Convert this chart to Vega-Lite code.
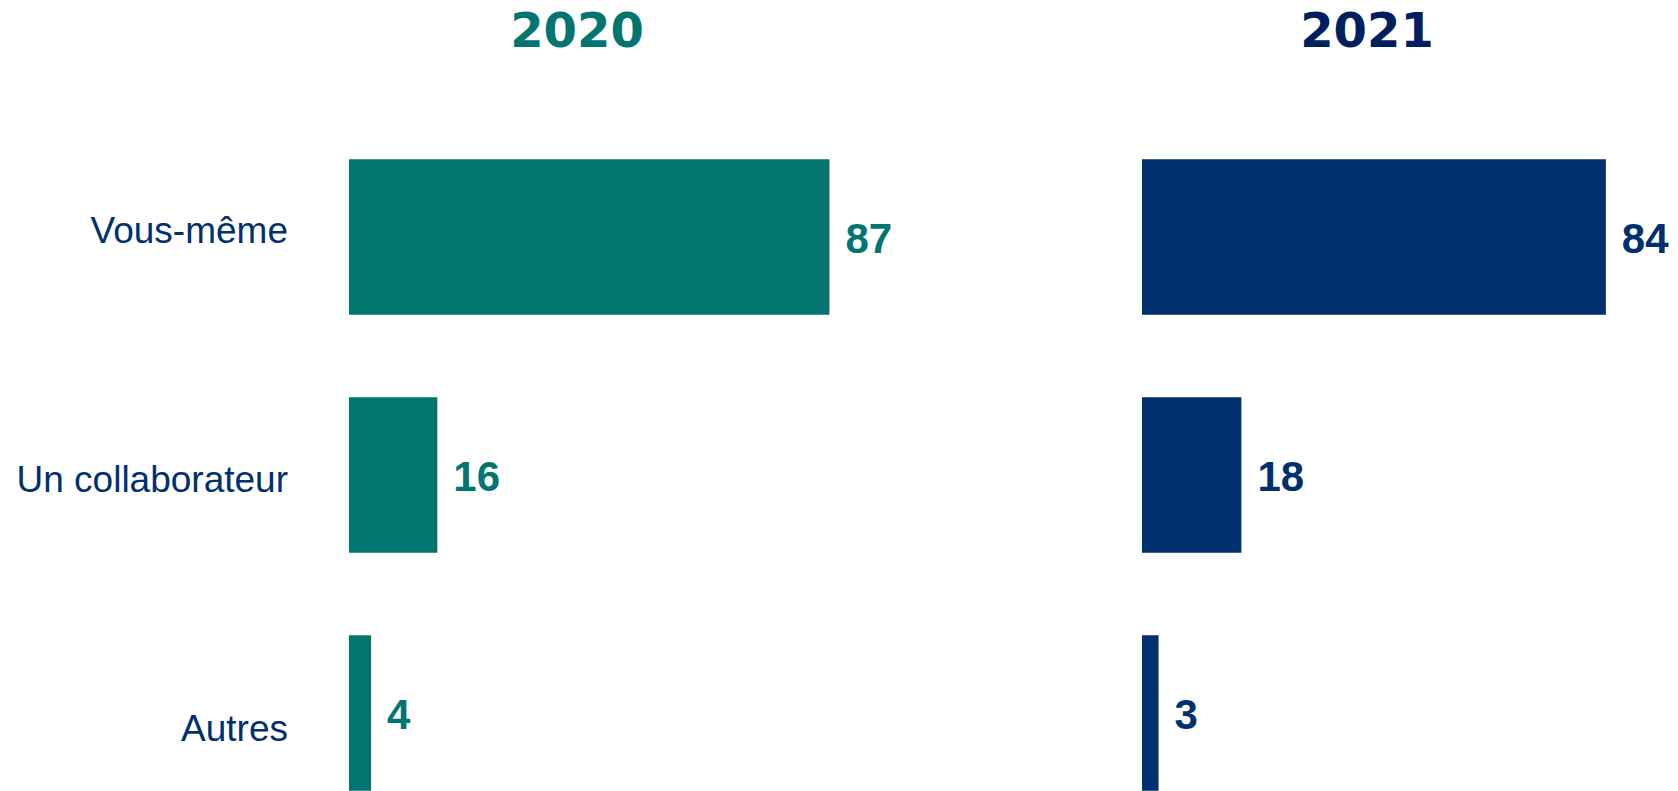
{
  "$schema": "https://vega.github.io/schema/vega-lite/v6.json",
  "padding": {"top": 9, "left": 0, "right": 0, "bottom": 0},
  "background": "white",
  "config": {
    "view": {"stroke": null},
    "concat": {"spacing": 249},
    "font": "Liberation Sans"
  },
  "data": {
    "values": [
      {"year": "2020", "cat": "Vous-même", "value": 87},
      {"year": "2020", "cat": "Un collaborateur", "value": 16},
      {"year": "2020", "cat": "Autres", "value": 4},
      {"year": "2021", "cat": "Vous-même", "value": 84},
      {"year": "2021", "cat": "Un collaborateur", "value": 18},
      {"year": "2021", "cat": "Autres", "value": 3}
    ]
  },
  "resolve": {"scale": {"x": "independent", "y": "independent"}},
  "hconcat": [
    {
      "title": {"text": "2020", "font": "DejaVu Sans", "fontWeight": "bold", "fontSize": 48, "color": "#027571", "anchor": "middle", "offset": 61, "dx": -20.5},
      "width": 497,
      "height": 673,
      "transform": [{"filter": "datum.year == '2020'"}],
      "resolve": {"scale": {"y": "independent"}},
      "layer": [
        {
          "encoding": {
            "y": {
              "field": "cat", "type": "nominal",
              "sort": ["Vous-même", "Un collaborateur", "Autres"],
              "scale": {"range": [0, 714], "paddingInner": 0.347, "paddingOuter": 0.1735},
              "axis": {"title": null, "domain": false, "ticks": false, "labels": false, "grid": false, "minExtent": 349, "maxExtent": 349}
            },
            "x": {"field": "value", "type": "quantitative", "scale": {"domain": [0, 90], "nice": false}, "axis": null}
          },
          "layer": [
            {"mark": {"type": "bar", "color": "#027571", "clip": true}},
            {"mark": {"type": "text", "align": "left", "baseline": "middle", "dx": 16, "dy": 3, "fontSize": 42, "fontWeight": "bold", "color": "#027571", "font": "Liberation Sans"},
             "encoding": {"text": {"field": "value", "type": "quantitative"}}}
          ]
        },
        {
          "mark": {"type": "text", "align": "right", "baseline": "middle", "dx": -61, "fontSize": 37, "color": "#00306E", "font": "Liberation Sans"},
          "encoding": {
            "y": {
              "field": "cat", "type": "nominal",
              "sort": ["Vous-même", "Un collaborateur", "Autres"],
              "scale": {"type": "point", "range": [6, 720], "padding": 0.434},
              "axis": null
            },
            "x": {"datum": 0},
            "text": {"field": "cat", "type": "nominal"}
          }
        }
      ]
    },
    {
      "title": {"text": "2021", "font": "DejaVu Sans", "fontWeight": "bold", "fontSize": 48, "color": "#001F5F", "anchor": "middle", "offset": 61, "dx": -23.5},
      "width": 497,
      "height": 673,
      "transform": [{"filter": "datum.year == '2021'"}],
      "encoding": {
        "y": {
          "field": "cat", "type": "nominal",
          "sort": ["Vous-même", "Un collaborateur", "Autres"],
          "scale": {"range": [0, 714], "paddingInner": 0.347, "paddingOuter": 0.1735},
          "axis": null
        },
        "x": {"field": "value", "type": "quantitative", "scale": {"domain": [0, 90], "nice": false}, "axis": null}
      },
      "layer": [
        {"mark": {"type": "bar", "color": "#00316E", "clip": true}},
        {"mark": {"type": "text", "align": "left", "baseline": "middle", "dx": 16, "dy": 3, "fontSize": 42, "fontWeight": "bold", "color": "#00316E", "font": "Liberation Sans"},
         "encoding": {"text": {"field": "value", "type": "quantitative"}}}
      ]
    }
  ]
}
